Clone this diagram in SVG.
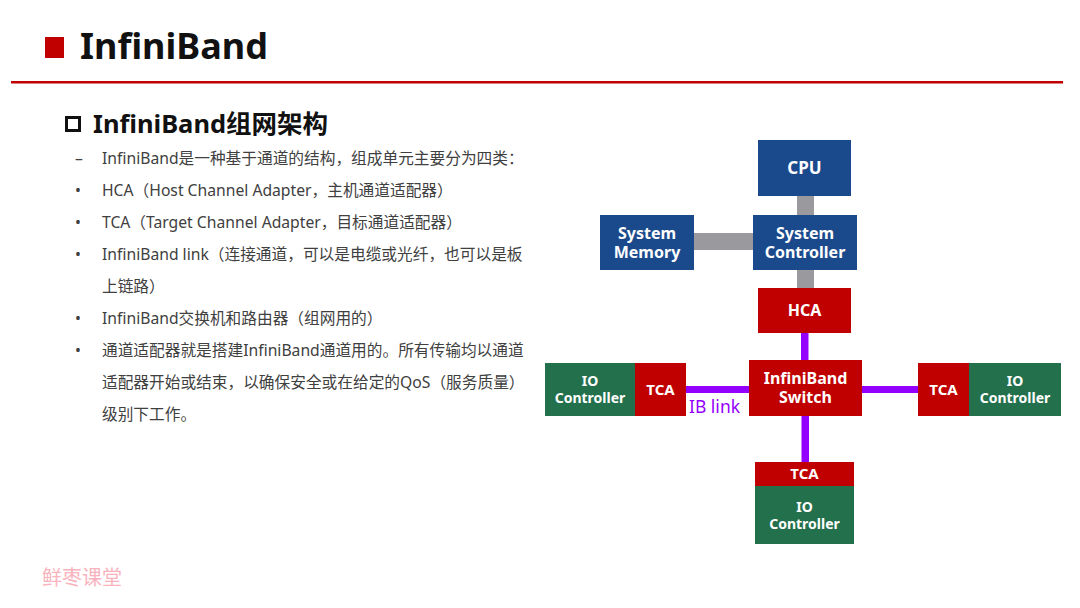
<svg xmlns="http://www.w3.org/2000/svg" width="1080" height="608" viewBox="0 0 1080 608">
<style>
.body{font-family:"Noto Sans","Noto Sans CJK SC",sans-serif;font-size:15.7px;fill:#404040}
.nt{font-family:"Noto Sans","Noto Sans CJK SC",sans-serif;font-weight:bold;fill:#fff;text-anchor:middle}
.blue{fill:#1b4a8c}
.red{fill:#c00000}
.green{fill:#23704d}
.gray{fill:#9a999e}
.purple{fill:#9400ff}
</style>
<rect width="1080" height="608" fill="#fff"/>
<g id="header">
<rect x="45" y="37" width="19" height="21" fill="#c00000"/>
<text x="80" y="59" font-family="'Noto Sans',sans-serif" font-weight="bold" font-size="36" fill="#111">InfiniBand</text>
<rect x="11" y="81" width="1052" height="2.5" fill="#c00000"/>
</g>
<g id="subtitle">
<rect x="66.5" y="117.5" width="13" height="13" fill="none" stroke="#111" stroke-width="3"/>
<text x="93" y="132.5" font-family="'Noto Sans','Noto Sans CJK SC',sans-serif" font-weight="bold" font-size="25.5" fill="#111">InfiniBand组网架构</text>
</g>
<g id="bullets" class="body">
<text x="75" y="164">–</text>
<text x="102" y="164">InfiniBand是一种基于通道的结构，组成单元主要分为四类：</text>
<text x="75" y="196">•</text>
<text x="102" y="196">HCA（Host Channel Adapter，主机通道适配器）</text>
<text x="75" y="228">•</text>
<text x="102" y="228">TCA（Target Channel Adapter，目标通道适配器）</text>
<text x="75" y="260">•</text>
<text x="102" y="260">InfiniBand link（连接通道，可以是电缆或光纤，也可以是板</text>
<text x="102" y="292">上链路）</text>
<text x="75" y="324">•</text>
<text x="102" y="324">InfiniBand交换机和路由器（组网用的）</text>
<text x="75" y="356">•</text>
<text x="102" y="356">通道适配器就是搭建InfiniBand通道用的。所有传输均以通道</text>
<text x="102" y="388">适配器开始或结束，以确保安全或在给定的QoS（服务质量）</text>
<text x="102" y="420">级别下工作。</text>
</g>
<g id="connectors">
<rect class="gray" x="797" y="196" width="17" height="20"/>
<rect class="gray" x="694" y="233" width="59" height="17"/>
<rect class="gray" x="797" y="270" width="17" height="19"/>
<rect class="purple" x="801" y="333" width="7.5" height="28"/>
<rect class="purple" x="686" y="386" width="64" height="7"/>
<rect class="purple" x="861" y="386" width="58" height="7"/>
<rect class="purple" x="801.5" y="415" width="7.5" height="48"/>
<text x="689" y="413" font-family="'Noto Sans',sans-serif" font-size="17.5" fill="#9400ff">IB link</text>
</g>
<g id="cpu"><rect class="blue" x="758" y="140" width="93" height="56"/><text class="nt" x="804.5" y="174" font-size="17">CPU</text></g>
<g id="sysmem"><rect class="blue" x="600" y="215" width="94" height="55"/><text class="nt" x="647" y="239" font-size="16">System</text><text class="nt" x="647" y="258" font-size="16">Memory</text></g>
<g id="sysctrl"><rect class="blue" x="753" y="215" width="104" height="55"/><text class="nt" x="805" y="239" font-size="16">System</text><text class="nt" x="805" y="258" font-size="16">Controller</text></g>
<g id="hca"><rect class="red" x="758" y="288" width="93" height="45"/><text class="nt" x="804.5" y="316" font-size="16">HCA</text></g>
<g id="switch"><rect class="red" x="749" y="360" width="113" height="56"/><text class="nt" x="805.5" y="384" font-size="16">InfiniBand</text><text class="nt" x="805.5" y="403" font-size="16">Switch</text></g>
<g id="io-left"><rect class="green" x="545" y="363" width="90" height="53"/><text class="nt" x="590" y="386" font-size="14">IO</text><text class="nt" x="590" y="403" font-size="14">Controller</text></g>
<g id="tca-left"><rect class="red" x="635" y="363" width="51" height="53"/><text class="nt" x="660.5" y="395" font-size="15">TCA</text></g>
<g id="tca-right"><rect class="red" x="918" y="363" width="51" height="53"/><text class="nt" x="943.5" y="395" font-size="15">TCA</text></g>
<g id="io-right"><rect class="green" x="969" y="363" width="92" height="53"/><text class="nt" x="1015" y="386" font-size="14">IO</text><text class="nt" x="1015" y="403" font-size="14">Controller</text></g>
<g id="tca-bottom"><rect class="red" x="755" y="462" width="99" height="24"/><text class="nt" x="804.5" y="479" font-size="15">TCA</text></g>
<g id="io-bottom"><rect class="green" x="755" y="486" width="99" height="58"/><text class="nt" x="804.5" y="512" font-size="14">IO</text><text class="nt" x="804.5" y="529" font-size="14">Controller</text></g>
<text x="42" y="585" font-family="'Noto Sans CJK SC',sans-serif" font-size="20" fill="#f9b3bd">鲜枣课堂</text>
</svg>
